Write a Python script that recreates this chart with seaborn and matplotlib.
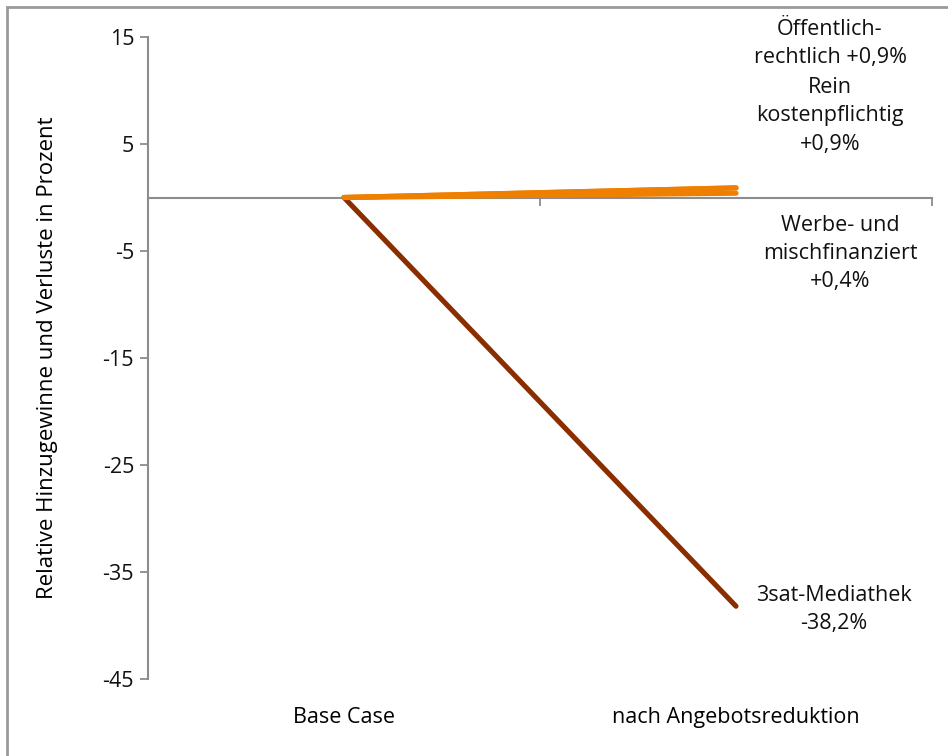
import matplotlib
matplotlib.use("Agg")
import matplotlib.pyplot as plt
import matplotlib.transforms as mtransforms
from matplotlib.patches import Rectangle
from matplotlib import font_manager
import pandas as pd
import seaborn as sns

# Categories on the x axis
stages = ["Base Case", "nach Angebotsreduktion"]

# Relative change per offer type (percent)
mediathek_3sat = [0.0, -38.2]
oeffentlich_rechtlich = [0.0, 0.9]
rein_kostenpflichtig = [0.0, 0.9]
werbe_mischfinanziert = [0.0, 0.4]

series_names = [
    "3sat-Mediathek",
    "Öffentlich-rechtlich",
    "Rein kostenpflichtig",
    "Werbe- und mischfinanziert",
]
series_values = [mediathek_3sat, oeffentlich_rechtlich, rein_kostenpflichtig, werbe_mischfinanziert]
end_labels = [
    "3sat-Mediathek\n-38,2%",
    "Öffentlich-\nrechtlich +0,9%",
    "Rein\nkostenpflichtig\n+0,9%",
    "Werbe- und\nmischfinanziert\n+0,4%",
]
y_ticks = [15, 5, -5, -15, -25, -35, -45]

ORANGE = "#EE7F00"
BROWN = "#8A2E00"
palette = {
    "3sat-Mediathek": BROWN,
    "Öffentlich-rechtlich": ORANGE,
    "Rein kostenpflichtig": ORANGE,
    "Werbe- und mischfinanziert": ORANGE,
}

rows = []
for name, vals in zip(series_names, series_values):
    for i, v in enumerate(vals):
        rows.append({"Serie": name, "x": i, "Wert": v})
df = pd.DataFrame(rows)

sns.set_theme(style="white")
available = {f.name for f in font_manager.fontManager.ttflist}
main_font = "Open Sans" if "Open Sans" in available else "DejaVu Sans"
narrow_font = "Liberation Sans Narrow" if "Liberation Sans Narrow" in available else main_font
plt.rcParams["font.family"] = [main_font, "DejaVu Sans"]
plt.rcParams["axes.unicode_minus"] = False

TEXT = "#111111"
AXIS = "#8c8c8c"

fig = plt.figure(figsize=(9.48, 7.56), dpi=100)
ax = fig.add_axes([148 / 948, 1 - 679 / 756, (932 - 148) / 948, (679 - 37) / 756])

sns.lineplot(
    data=df, x="x", y="Wert", hue="Serie", hue_order=series_names,
    palette=palette, legend=False, ax=ax, linewidth=3.7,
    solid_capstyle="round", estimator=None, sort=False,
)
for line in ax.lines:
    line.set_zorder(3)

ax.set_xlim(-0.5, 1.5)
ax.set_ylim(-45, 15)
ax.set_yticks(y_ticks)
ax.set_yticklabels([str(t) for t in y_ticks])
ax.tick_params(axis="y", left=True, direction="out", length=6, width=1.3, color=AXIS,
               labelsize=15.5, labelcolor=TEXT, pad=4)

# Horizontal axis sits at zero; tick marks between categories
ax.spines["bottom"].set_position(("data", 0))
ax.spines["bottom"].set_color(AXIS)
ax.spines["bottom"].set_linewidth(1.5)
ax.spines["bottom"].set_zorder(2)
ax.spines["left"].set_color(AXIS)
ax.spines["left"].set_linewidth(1.5)
ax.spines["top"].set_visible(False)
ax.spines["right"].set_visible(False)
ax.set_xticks([-0.5, 0.5, 1.5])
ax.set_xticklabels([])
ax.tick_params(axis="x", bottom=True, direction="out", length=6, width=1.3, color=AXIS)
ax.set_xlabel("")
ax.set_ylabel("Relative Hinzugewinne und Verluste in Prozent", fontsize=16,
              color="#000000", family=[narrow_font, "DejaVu Sans"], labelpad=32)

# Category names below the plot area
trans = mtransforms.blended_transform_factory(ax.transData, ax.transAxes)
for i, name in enumerate(stages):
    ax.text(i, -0.06, name, transform=trans, ha="center", va="center",
            fontsize=15.5, color="#000000", family=[narrow_font, "DejaVu Sans"])

# End-point labels
offsets = {
    "3sat-Mediathek": (98, -3),
    "Öffentlich-rechtlich": (94, 144),
    "Rein kostenpflichtig": (94, 72),
    "Werbe- und mischfinanziert": (104, -60),
}
for name, vals, label in zip(series_names, series_values, end_labels):
    ax.annotate(label, xy=(1, vals[-1]), xytext=offsets[name],
                textcoords="offset pixels", ha="center", va="center",
                fontsize=15.5, color=TEXT, linespacing=1.45,
                annotation_clip=False)

# Frame around the figure
fig.patches.append(Rectangle((7 / 948, -0.1), 1.2, 1 - 7 / 756 + 0.1,
                             transform=fig.transFigure, fill=False,
                             edgecolor="#9a9a9a", linewidth=2))

fig.savefig("out.png", dpi=100)
